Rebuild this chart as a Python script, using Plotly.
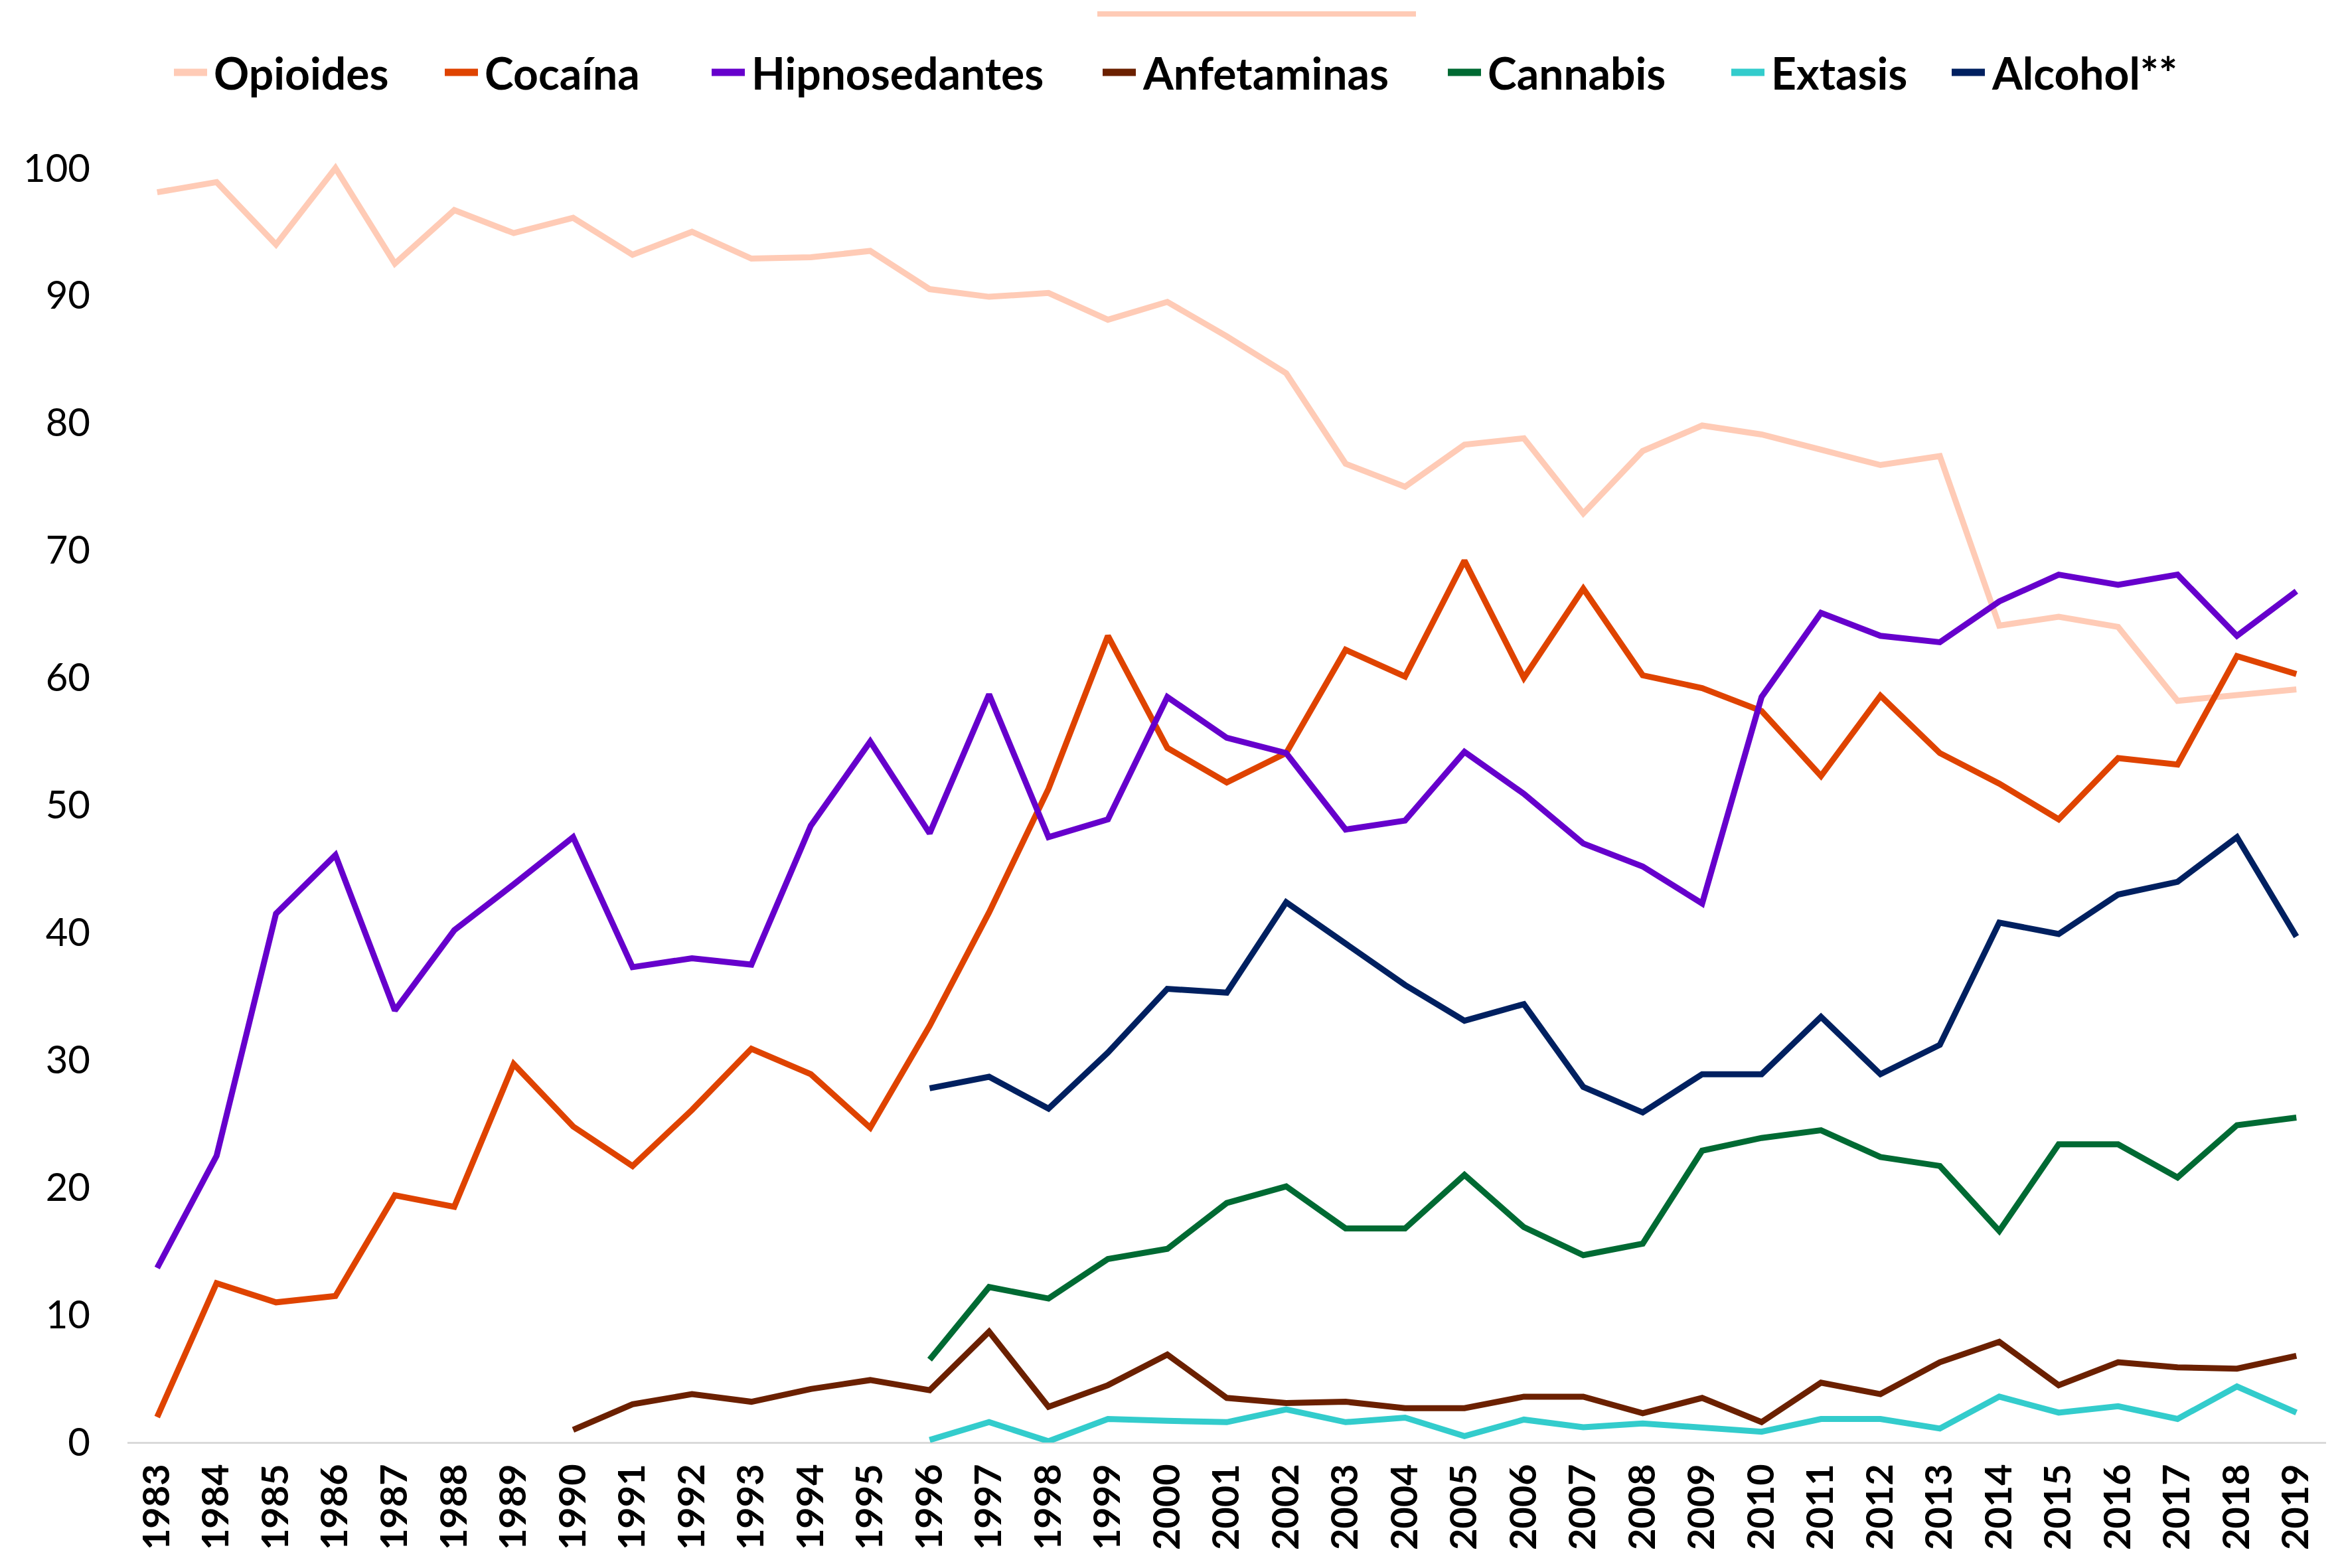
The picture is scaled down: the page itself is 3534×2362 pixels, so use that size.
import plotly.graph_objects as go

# Years covered by each indicator
years_all = list(range(1983, 2020))
years_anf = list(range(1990, 2020))
years_late = list(range(1996, 2020))

opioides = [98.1, 98.9, 94.0, 100.0, 92.5, 96.7, 94.9, 96.1, 93.2, 95.0, 92.9, 93.0,
            93.5, 90.5, 89.9, 90.2, 88.1, 89.5, 86.8, 83.9, 76.8, 75.0, 78.3, 78.8,
            72.9, 77.8, 79.8, 79.1, 77.9, 76.7, 77.4, 64.1, 64.8, 64.0, 58.2, 58.7, 59.1]
cocaina = [2.0, 12.5, 11.0, 11.5, 19.4, 18.5, 29.7, 24.8, 21.7, 26.1, 30.9, 28.9,
           24.7, 32.7, 41.6, 51.3, 63.3, 54.5, 51.8, 54.1, 62.2, 60.1, 69.2, 60.0,
           67.0, 60.2, 59.2, 57.4, 52.3, 58.6, 54.1, 51.7, 48.9, 53.7, 53.2, 61.7, 60.3]
hipnosedantes = [13.7, 22.5, 41.5, 46.1, 33.9, 40.2, 43.8, 47.5, 37.3, 38.0, 37.5, 48.4,
                 55.0, 47.8, 58.7, 47.5, 48.9, 58.5, 55.3, 54.1, 48.1, 48.8, 54.2, 50.9,
                 47.0, 45.2, 42.3, 58.5, 65.1, 63.3, 62.8, 66.0, 68.1, 67.3, 68.1, 63.3, 66.8]
anfetaminas = [1.0, 3.0, 3.8, 3.2, 4.2, 4.9, 4.1, 8.7, 2.8, 4.5, 6.9, 3.5, 3.1, 3.2,
               2.7, 2.7, 3.6, 3.6, 2.3, 3.5, 1.6, 4.7, 3.8, 6.3, 7.9, 4.5, 6.3, 5.9, 5.8, 6.8]
cannabis = [6.5, 12.2, 11.3, 14.4, 15.2, 18.8, 20.1, 16.8, 16.8, 21.0, 16.9, 14.7,
            15.6, 22.9, 23.9, 24.5, 22.4, 21.7, 16.6, 23.4, 23.4, 20.8, 24.9, 25.5]
extasis = [0.2, 1.6, 0.1, 1.85, 1.7, 1.6, 2.6, 1.6, 1.95, 0.5, 1.8, 1.2,
           1.5, 1.2, 0.85, 1.85, 1.85, 1.1, 3.6, 2.35, 2.85, 1.85, 4.4, 2.35]
alcohol = [27.8, 28.7, 26.2, 30.6, 35.6, 35.3, 42.4, 39.1, 35.9, 33.1, 34.4, 27.9,
           25.9, 28.9, 28.9, 33.4, 28.9, 31.2, 40.8, 39.9, 43.0, 44.0, 47.5, 39.7]

series = [
    ("Opioides", years_all, opioides, "#FFCBB6"),
    ("Cocaína", years_all, cocaina, "#DF4300"),
    ("Hipnosedantes", years_all, hipnosedantes, "#6600CC"),
    ("Anfetaminas", years_anf, anfetaminas, "#6B2000"),
    ("Cannabis", years_late, cannabis, "#006A33"),
    ("Extasis", years_late, extasis, "#33CCCC"),
    ("Alcohol**", years_late, alcohol, "#002060"),
]

fig = go.Figure()
for name, xs, ys, color in series:
    fig.add_trace(go.Scatter(
        x=xs, y=ys, name=name, mode="lines",
        line=dict(color=color, width=9),
    ))

W, H = 3534, 2362
L, R, T, B = 192, 30, 234, 189

px_to_x = lambda p: (p - L) / (W - L - R)
px_to_y = lambda p: (H - B - p) / (H - B - T)

fig.update_layout(
    width=W, height=H,
    margin=dict(l=L, r=R, t=T, b=B, pad=0),
    paper_bgcolor="white", plot_bgcolor="white",
    font=dict(family="Lato, sans-serif", color="black"),
    showlegend=False,
    xaxis=dict(
        range=[1982.5, 2019.5], tickmode="array", tickvals=years_all,
        ticktext=[str(y) for y in years_all], tickangle=-90,
        tickfont=dict(size=56, family="Lato, sans-serif", weight="bold"),
        showgrid=False, zeroline=False, showline=False, ticks="",
        ticklabelstandoff=20,
    ),
    yaxis=dict(
        range=[0, 101], tickmode="linear", tick0=0, dtick=10,
        tickfont=dict(size=58, family="Lato, sans-serif"),
        showgrid=False, zeroline=True, zerolinecolor="#D9D9D9", zerolinewidth=3,
        showline=False, ticks="", ticklabelstandoff=55,
    ),
)

# Legend row across the top: short swatch followed by the series name
legend_swatch_left = [258, 666, 1068, 1657, 2177, 2604, 2936]
legend_y = 109
for (name, _, _, color), sx in zip(series, legend_swatch_left):
    fig.add_shape(type="line", xref="paper", yref="paper",
                  x0=px_to_x(sx + 4), x1=px_to_x(sx + 54),
                  y0=px_to_y(legend_y), y1=px_to_y(legend_y),
                  line=dict(color=color, width=11))
    fig.add_annotation(xref="paper", yref="paper",
                       x=px_to_x(sx + 62), y=px_to_y(legend_y),
                       xanchor="left", yanchor="middle", showarrow=False,
                       text=name,
                       font=dict(size=66, family="Lato, sans-serif",
                                 weight="bold", color="black"))

# thin decorative bar above the legend
fig.add_shape(type="line", xref="paper", yref="paper",
              x0=px_to_x(1653), x1=px_to_x(2133), y0=px_to_y(21), y1=px_to_y(21),
              line=dict(color="#FFCBB6", width=8))

fig.write_html("out.html")
